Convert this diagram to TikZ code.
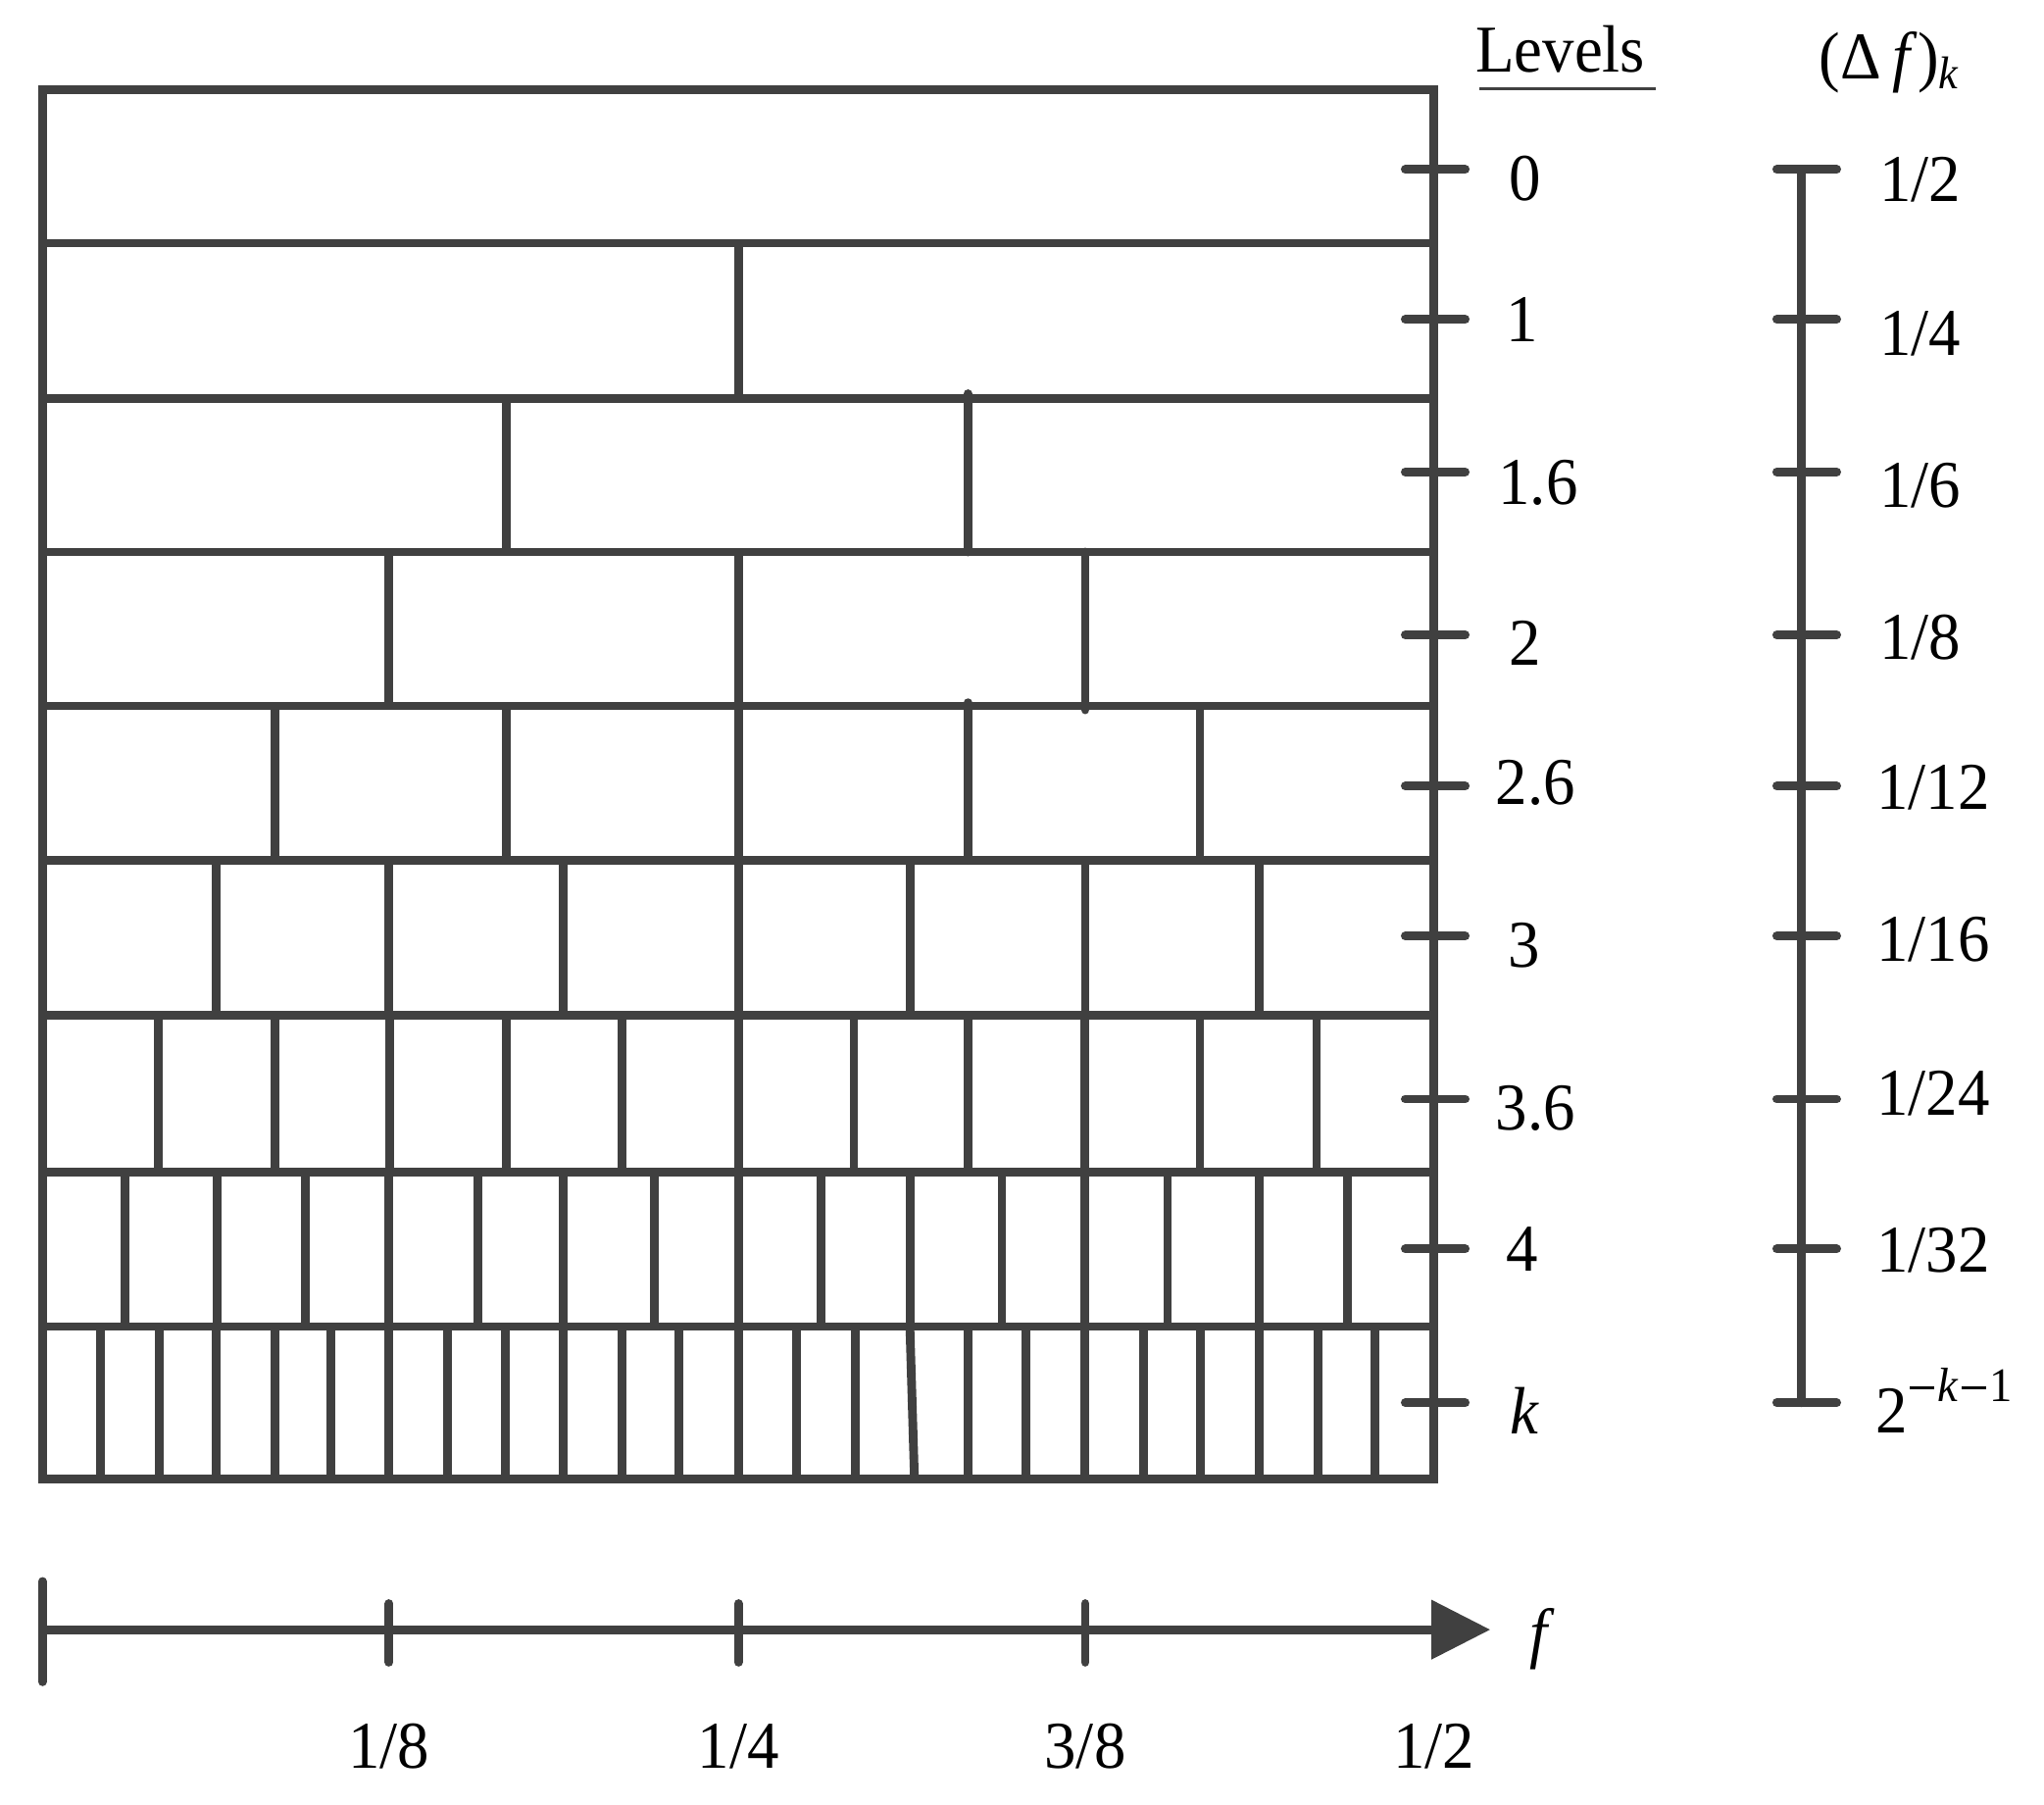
\documentclass[tikz,border=0pt]{standalone}
\usepackage{fontspec}
\setmainfont[FakeStretch=0.95]{Liberation Serif}
\definecolor{ln}{HTML}{404040}
\newcommand{\labfont}{\fontsize{14.6}{17}\selectfont}
\newcommand{\supminus}{\rule[2.6pt]{5.2pt}{0.6pt}}
\begin{document}
\begin{tikzpicture}[x=0.01cm,y=-0.01cm,
  gridline/.style={draw=ln,line width=1.9pt},
  tickline/.style={draw=ln,line width=1.9pt,line cap=round},
  lab/.style={inner sep=0pt,anchor=base,font=\labfont,text=black},
  labw/.style={lab,anchor=base west}]
\useasboundingbox (0,0) rectangle (1568,1384);

% ---------- grid of levels ----------
\foreach \y in {186.5,306,423.4,541.5,660,779,899,1017.5}
  \draw[gridline] (32.6,\y) -- (1100,\y);
% row 1
\draw[gridline] (566.5,186.5) -- (566.5,306);
% row 1.6
\draw[gridline] (388.5,306) -- (388.5,423.4);
\draw[tickline] (742.5,302) -- (742.5,423.4);
% row 2
\foreach \x in {298.5,566.5}
  \draw[gridline] (\x,423.4) -- (\x,541.5);
\draw[tickline] (832.5,423.4) -- (832.5,544.5);
% row 2.6
\foreach \x in {211,388.5,566.5,920.5}
  \draw[gridline] (\x,541.5) -- (\x,660);
\draw[tickline] (742.5,539) -- (742.5,660);
% row 3
\foreach \x in {166,298.5,432,566.5,698.5,832.5,966}
  \draw[gridline] (\x,660) -- (\x,779);
% row 3.6
\foreach \x in {121.5,211,299,388.5,477,566.5,655,742.5,832,920.5,1010}
  \draw[gridline] (\x,779) -- (\x,899);
% row 4
\foreach \x in {95.8,166.5,234.5,298.5,366.5,432,502,566.5,630,698,768.6,832,895.7,966,1034}
  \draw[gridline] (\x,899) -- (\x,1017.5);
% row k
\foreach \x in {77,122,166,211,254,298.5,343,387.5,432,477,521,566.5,611,656,742.5,787,832,877,921,966,1011,1055}
  \draw[gridline] (\x,1017.5) -- (\x,1134.5);
\draw[gridline] (698,1017.5) -- (701.5,1134.5);
% frame
\draw[gridline] (32.6,68.7) rectangle (1100,1134.5);

% ---------- level ticks and labels ----------
\foreach \y in {130,245,362,487,603,718,843,958,1076}
  \draw[tickline] (1078,\y) -- (1124,\y);
\node[lab] (hlev) at (1197,55) {Levels};
\draw[ln,line width=0.6pt] (1135,68) -- (1270,68);
\node[lab] (l0) at (1170,154) {0};
\node[lab] (l1) at (1168,262) {1};
\node[lab] (l16) at (1180,387) {1.6};
\node[lab] (l2) at (1170,510) {2};
\node[lab] (l26) at (1178,617) {2.6};
\node[lab] (l3) at (1169,742) {3};
\node[lab] (l36) at (1178,867) {3.6};
\node[lab] (l4) at (1168,975) {4};
\node[lab] (lk) at (1170,1100) {\textit{k}};

% ---------- resolution scale ----------
\draw[tickline] (1382,130) -- (1382,1076);
\foreach \y in {130,245,362,487,603,718,843,958,1076}
  \draw[tickline] (1363,\y) -- (1409,\y);
\node[labw] (hdf) at (1395,60.5) {(Δ\,\textit{f})\raisebox{-0.077cm}{\fontsize{10}{12}\selectfont\textit{k}}};
\node[labw] (d0) at (1441,154.5) {1/2};
\node[labw] (d1) at (1441,272.5) {1/4};
\node[labw] (d2) at (1441,389.5) {1/6};
\node[labw] (d3) at (1441,505.5) {1/8};
\node[labw] (d4) at (1439,620.5) {1/12};
\node[labw] (d5) at (1439,737.5) {1/16};
\node[labw] (d6) at (1439,855.5) {1/24};
\node[labw] (d7) at (1439,975.5) {1/32};
\node[labw] (dk) at (1438,1099) {2\raisebox{0.24cm}{\fontsize{10.5}{12}\selectfont\kern0.6pt\supminus\kern0.8pt\textit{k}\kern0.8pt\supminus\kern0.8pt1}};

% ---------- frequency axis ----------
\coordinate (ax0) at (32.6,1250);
\coordinate (ax1) at (1100,1250);
\draw[gridline] (ax0) -- (ax1);
\fill[ln] (1098,1227) -- (1143,1250) -- (1098,1273) -- cycle;
\draw[tickline] (32.6,1213) -- (32.6,1290);
\foreach \x in {298.5,566.5,832.5}
  \draw[tickline] (\x,1230) -- (\x,1275);
\node[lab] (fl) at (1183,1270) {\textit{f}};
\node[lab] (f1) at (298.5,1356) {1/8};
\node[lab] (f2) at (566.5,1356) {1/4};
\node[lab] (f3) at (832.5,1356) {3/8};
\node[lab] (f4) at (1100,1356) {1/2};
\end{tikzpicture}
\end{document}
